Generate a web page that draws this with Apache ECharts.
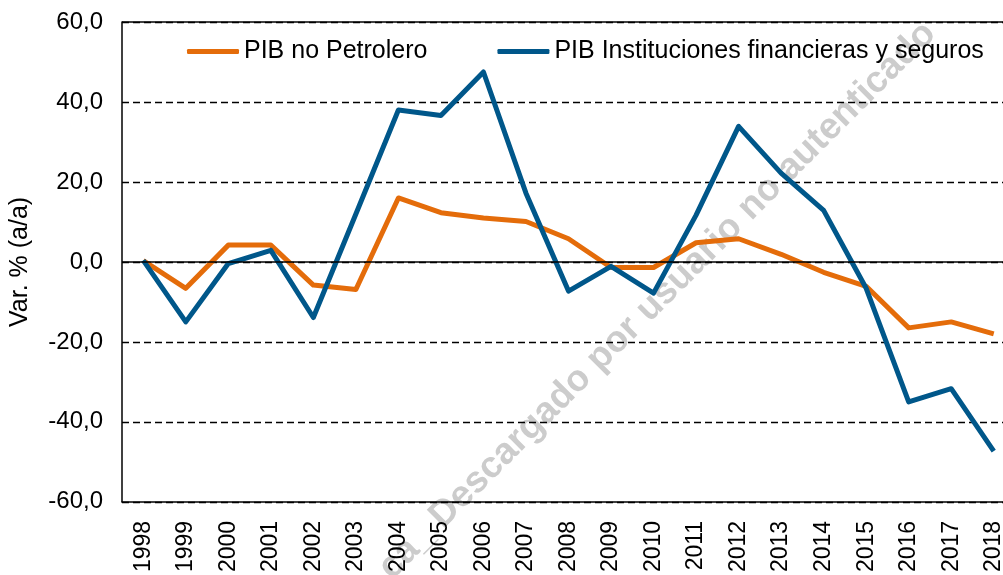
<html>

<head>
    <meta charset="UTF-8">
    <title>PIB no Petrolero vs PIB Instituciones financieras</title>
    <script src="https://cdn.jsdelivr.net/npm/echarts@6/dist/echarts.min.js"></script>
    <style>
        body {
            margin: 0;
            background: #fff;
            overflow: hidden;
        }
    </style>
</head>

<body>
    <!-- the original picture is cut on the right, so the chart is a bit wider than the window -->
    <div id="chart" style="width:1015px; height:575px;"></div>

    <script>
        var years = ['1998', '1999', '2000', '2001', '2002', '2003', '2004', '2005', '2006', '2007', '2008',
            '2009', '2010', '2011', '2012', '2013', '2014', '2015', '2016', '2017', '2018'];
        var pibNoPetrolero = [0.3, -6.6, 4.2, 4.2, -5.8, -6.9, 16.0, 12.3, 11.0, 10.1, 5.8,
            -1.4, -1.4, 4.8, 5.8, 1.9, -2.6, -6.1, -16.5, -15.0, -18.0];
        var pibFinancieras = [0.4, -15.0, -0.4, 2.9, -13.9, 12.0, 38.0, 36.6, 47.5, 17.2, -7.3,
            -1.1, -7.8, 11.7, 33.9, 22.2, 12.9, -6.6, -35.0, -31.7, -47.3];
        var yTicks = { min: -60, max: 60, interval: 20 };

        var font = 'Arial, "Liberation Sans", sans-serif';
        var chart = echarts.init(document.getElementById('chart'), null, { renderer: 'canvas' });

        chart.setOption({
            animation: false,
            backgroundColor: '#fff',
            grid: { left: 119, right: 0, top: 22, bottom: 72, containLabel: false },
            legend: {
                left: 182,
                top: 34,
                itemWidth: 52,
                itemHeight: 5,
                itemGap: 70,
                icon: 'roundRect',
                textStyle: { fontFamily: font, fontSize: 25, color: '#000' },
                data: ['PIB no Petrolero', 'PIB Instituciones financieras y seguros']
            },
            xAxis: {
                type: 'category',
                data: years,
                boundaryGap: true,
                axisLine: { onZero: false, lineStyle: { color: '#000', width: 1.5 } },
                axisTick: { show: false },
                axisLabel: { rotate: 90, margin: 19, color: '#000', fontFamily: font, fontSize: 23 },
                splitLine: { show: false }
            },
            yAxis: {
                type: 'value',
                min: yTicks.min,
                max: yTicks.max,
                interval: yTicks.interval,
                name: 'Var. % (a/a)',
                nameLocation: 'middle',
                nameGap: 89,
                nameTextStyle: { fontFamily: font, fontSize: 25, color: '#000' },
                axisLine: { show: true, lineStyle: { color: '#000', width: 1.5 } },
                axisTick: { show: false },
                axisLabel: {
                    margin: 19, color: '#000', fontFamily: font, fontSize: 24,
                    formatter: function (v) { return v.toFixed(1).replace('.', ','); }
                },
                splitLine: { lineStyle: { color: '#000', width: 1.3, type: [7, 4] } }
            },
            graphic: [{
                type: 'text',
                x: 930,
                y: 28,
                rotation: Math.PI / 4,
                z: -1,
                silent: true,
                style: {
                    text: 'ca_ Descargado por usuario no autenticado',
                    font: 'bold 37px ' + font,
                    fill: '#cccccc',
                    textAlign: 'right',
                    textVerticalAlign: 'middle'
                }
            }],
            series: [
                {
                    name: 'PIB no Petrolero',
                    type: 'line',
                    data: pibNoPetrolero,
                    symbol: 'none',
                    color: '#E46C0A',
                    lineStyle: { width: 5, join: 'round' },
                    z: 3,
                    markLine: {
                        silent: true,
                        symbol: 'none',
                        label: { show: false },
                        lineStyle: { color: '#000', type: 'solid', width: 1.5 },
                        data: [{ yAxis: 0 }, { yAxis: 60 }]
                    }
                },
                {
                    name: 'PIB Instituciones financieras y seguros',
                    type: 'line',
                    data: pibFinancieras,
                    symbol: 'none',
                    color: '#00578A',
                    lineStyle: { width: 5, join: 'round' },
                    z: 4
                }
            ]
        });
    </script>
</body>

</html>
